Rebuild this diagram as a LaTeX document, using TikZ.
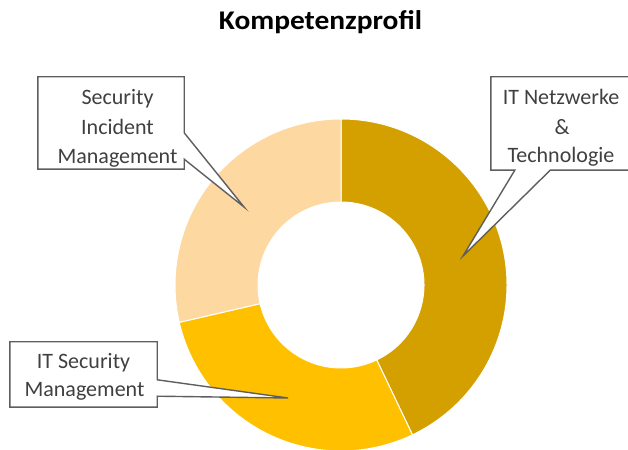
\documentclass[tikz,border=0pt]{standalone}
\usepackage{fontspec}
\setmainfont{Carlito}
\usetikzlibrary{calc}
\definecolor{darkgold}{HTML}{D3A000}
\definecolor{gold}{HTML}{FFC000}
\definecolor{peach}{HTML}{FDD8A0}
\definecolor{calloutgray}{HTML}{5E5E5E}
\definecolor{textgray}{HTML}{404040}
\begin{document}
\begin{tikzpicture}[x=1pt,y=1pt,
  seg/.style={draw=white, line width=1pt},
  boxshape/.style={rectangle, inner sep=0pt, minimum width=#1},
  callout/.style={draw=calloutgray, line width=1.4pt, fill=white, line join=miter},
  lbl/.style={font=\fontsize{22}{29}\selectfont, text=textgray, anchor=base, inner sep=0pt},
  ttl/.style={font=\bfseries\fontsize{27}{32}\selectfont, anchor=base, inner sep=0pt}
]
\useasboundingbox (0,0) rectangle (628,449);
% title
\node[ttl] (title) at (320.5,419) {\scalebox{1.09}[1]{Kompetenzprofil}};
% donut
\coordinate (C) at (341,164);
\path[seg, fill=darkgold] ($(C)+(90:166)$) arc[start angle=90, end angle=-64.5, radius=166]
  -- ($(C)+(-64.5:83)$) arc[start angle=-64.5, end angle=90, radius=83] -- cycle;
\path[seg, fill=gold] ($(C)+(-64.5:166)$) arc[start angle=-64.5, end angle=-167, radius=166]
  -- ($(C)+(-167:83)$) arc[start angle=-167, end angle=-64.5, radius=83] -- cycle;
\path[seg, fill=peach] ($(C)+(193:166)$) arc[start angle=193, end angle=90, radius=166]
  -- ($(C)+(90:83)$) arc[start angle=90, end angle=193, radius=83] -- cycle;
% tips
\coordinate (tip1) at (244,242);
\coordinate (tip2) at (463,193);
\coordinate (tip3) at (288,51);
% callout boxes
\node[boxshape=146pt, minimum height=92pt] (b1) at (111,326) {};
\node[boxshape=141pt, minimum height=93pt] (b2) at (561.5,325.5) {};
\node[boxshape=147pt, minimum height=65pt] (b3) at (83.5,74.5) {};
\draw[callout] (b1.north west) -- (b1.north east) -- ([yshift=-56pt]b1.north east) -- (tip1)
  -- ([yshift=10pt]b1.south east) -- (b1.south east) -- (b1.south west) -- cycle;
\draw[callout] (b2.north west) -- (b2.north east) -- (b2.south east) -- ([xshift=-82pt]b2.south east)
  -- (tip2) -- ([xshift=24pt]b2.south west) -- (b2.south west) -- cycle;
\draw[callout] (b3.north west) -- (b3.north east) -- ([yshift=-38pt]b3.north east) -- (tip3)
  -- ([yshift=11pt]b3.south east) -- (b3.south east) -- (b3.south west) -- cycle;
% texts
\node[lbl] (t11) at (117.5,344) {Security};
\node[lbl] (t12) at (117.5,314.5) {Incident};
\node[lbl] (t13) at (117.5,285) {Management};
\node[lbl] (t21) at (561,344) {IT Netzwerke};
\node[lbl] (t22) at (562,314.5) {\&};
\node[lbl] (t23) at (561,286) {Technologie};
\node[lbl] (t31) at (83.5,80) {IT Security};
\node[lbl] (t32) at (84.5,52) {Management};
\end{tikzpicture}
\end{document}
